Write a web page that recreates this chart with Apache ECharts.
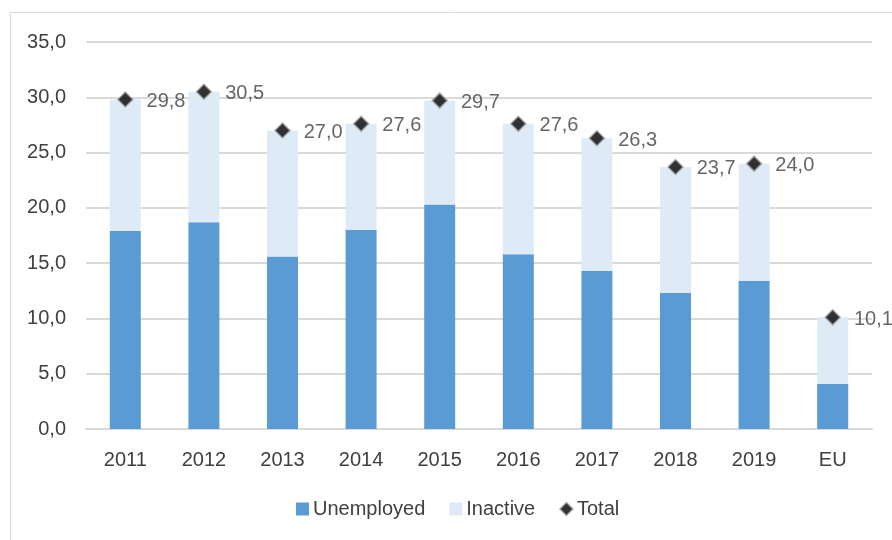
<!DOCTYPE html>
<html>
<head>
<meta charset="utf-8">
<script src="https://cdn.jsdelivr.net/npm/echarts@6/dist/echarts.min.js"></script>
<style>
  html, body { margin: 0; padding: 0; background: #fff; }
  #chart { width: 892px; height: 540px; }
</style>
</head>
<body>
<div id="chart"></div>
<script>
// data
var years = ['2011', '2012', '2013', '2014', '2015', '2016', '2017', '2018', '2019', 'EU'];
var unemployed = [17.9, 18.7, 15.6, 18.0, 20.3, 15.8, 14.3, 12.3, 13.4, 4.1];
var total = [29.8, 30.5, 27.0, 27.6, 29.7, 27.6, 26.3, 23.7, 24.0, 10.1];
var inactive = [];
for (var i = 0; i < total.length; i++) {
    inactive.push(+(total[i] - unemployed[i]).toFixed(1));
}

var fontFam = "'Liberation Sans', Arial, sans-serif";
var txt = '#404040';

function comma(v) {
    return v.toFixed(1).replace('.', ',');
}

var chart = echarts.init(document.getElementById('chart'));
var option = {
    animation: false,
    textStyle: { fontFamily: fontFam },
    graphic: [{
        type: 'rect',
        shape: { x: 10.5, y: 12.5, width: 900, height: 600 },
        style: { fill: 'none', stroke: '#d9d9d9', lineWidth: 1 },
        silent: true
    }],
    grid: { left: 86, right: 20, top: 42, bottom: 111 },
    legend: {
        top: 494,
        left: 291,
        itemGap: 24,
        itemWidth: 13,
        itemHeight: 13,
        textStyle: { fontSize: 20, color: txt, fontFamily: fontFam, padding: [0, 0, 0, -1] },
        data: [
            { name: 'Unemployed', icon: 'rect' },
            { name: 'Inactive', icon: 'rect' },
            { name: 'Total', icon: 'diamond', itemStyle: { color: '#000', borderColor: '#a0a0a0', borderWidth: 1.5 } }
        ]
    },
    xAxis: {
        type: 'category',
        data: years,
        axisLine: { lineStyle: { color: '#d9d9d9', width: 2 } },
        axisTick: { show: false },
        axisLabel: { color: txt, fontSize: 20, margin: 21, fontFamily: fontFam }
    },
    yAxis: {
        type: 'value',
        min: 0,
        max: 35,
        interval: 5,
        axisLine: { show: false },
        axisTick: { show: false },
        splitLine: { lineStyle: { color: '#d9d9d9', width: 2 } },
        axisLabel: {
            color: txt, fontSize: 20, margin: 20, fontFamily: fontFam,
            formatter: function (v) { return comma(v); }
        }
    },
    series: [
        {
            name: 'Unemployed',
            type: 'bar',
            stack: 'a',
            barWidth: 31,
            data: unemployed,
            itemStyle: { color: '#5b9bd5' }
        },
        {
            name: 'Inactive',
            type: 'bar',
            stack: 'a',
            barWidth: 31,
            data: inactive,
            itemStyle: { color: '#deebf7' }
        },
        {
            name: 'Total',
            type: 'scatter',
            data: total,
            symbol: 'diamond',
            symbolSize: 15,
            itemStyle: { color: '#000', borderColor: '#a0a0a0', borderWidth: 1.5 },
            label: {
                show: true,
                position: 'right',
                distance: 13,
                offset: [0, 2],
                color: txt,
                fontSize: 20,
                fontFamily: fontFam,
                formatter: function (p) { return comma(p.value); }
            },
            z: 5
        }
    ]
};
chart.setOption(option);
</script>
</body>
</html>
